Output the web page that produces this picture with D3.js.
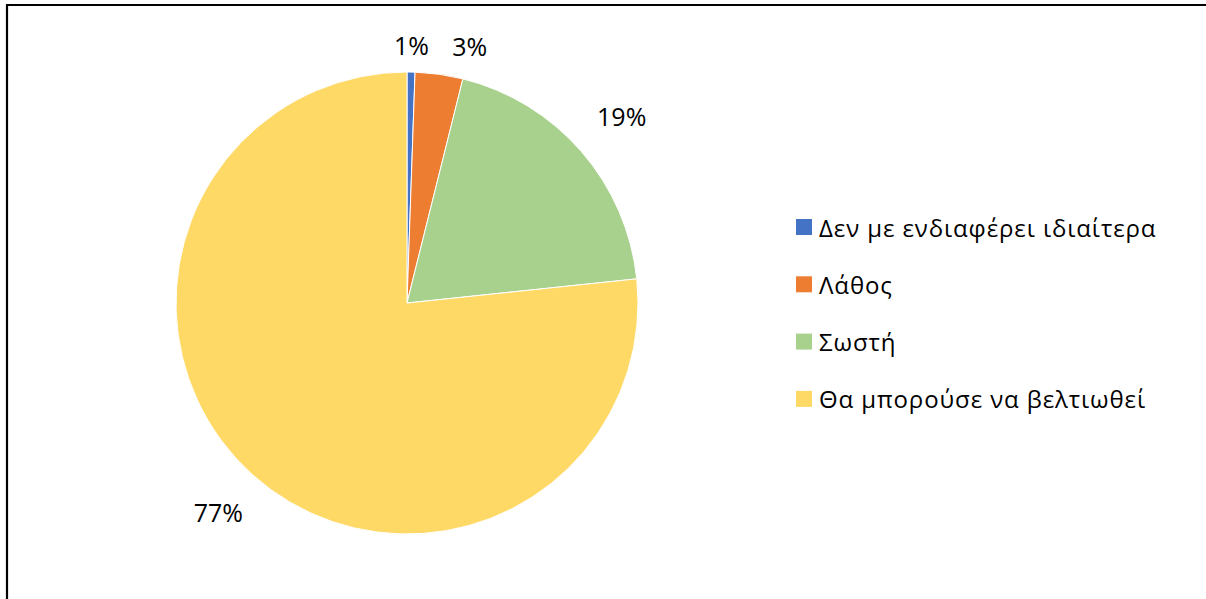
<!DOCTYPE html>
<html>
<head>
<meta charset="utf-8">
<script src="https://cdn.jsdelivr.net/npm/d3@7"></script>
<style>
  html, body { margin: 0; padding: 0; background: #fff; }
  svg { display: block; }
  text { font-family: "Open Sans", "Noto Sans", "DejaVu Sans", sans-serif; fill: #000; }
</style>
</head>
<body>
<svg id="chart" width="1206" height="599"></svg>
<script>
// Survey answers (response counts) and their slice colours
const categories = ["Δεν με ενδιαφέρει ιδιαίτερα", "Λάθος", "Σωστή", "Θα μπορούσε να βελτιωθεί"];
const counts = [1, 6, 35, 138];
const colors = ["#4472C4", "#ED7D31", "#A9D18E", "#FFD966"];

const width = 1206, height = 599;
const svg = d3.select("#chart");

// chart frame (left and top edges visible)
svg.append("path")
  .attr("d", d3.line()([[7, height + 2], [7, 5], [width + 2, 5]]))
  .attr("fill", "none")
  .attr("stroke", "#000")
  .attr("stroke-width", 2.2);

const cx = 407, cy = 303, radius = 231;
const total = d3.sum(counts);
const data = categories.map((c, i) => ({ name: c, value: counts[i], color: colors[i] }));

const pie = d3.pie().value(d => d.value).sort(null);
const arcs = pie(data);
const arc = d3.arc().innerRadius(0).outerRadius(radius);

const g = svg.append("g").attr("transform", `translate(${cx},${cy})`);

g.selectAll("path.slice")
  .data(arcs)
  .join("path")
  .attr("class", "slice")
  .attr("d", arc)
  .attr("fill", d => d.data.color)
  .attr("stroke", "#fff")
  .attr("stroke-width", 1);

// percentage labels placed just outside the pie, nudged clockwise if they collide
const fmt = d => Math.round(d.value / total * 100) + "%";
const labelSize = 25, gap = 18;
const labels = g.selectAll("text.pct")
  .data(arcs)
  .join("text")
  .attr("class", "pct")
  .attr("text-anchor", "middle")
  .attr("dominant-baseline", "central")
  .style("font-size", labelSize + "px")
  .text(fmt);

const placed = [];
labels.each(function(d) {
  const w = this.getComputedTextLength(), h = labelSize * 0.7;
  let a = (d.startAngle + d.endAngle) / 2;
  let x, y;
  const posAt = ang => {
    const s = Math.sin(ang), c = -Math.cos(ang);
    const ext = Math.abs(s) * w * 0.8 + Math.abs(c) * h / 2;
    const rr = radius + gap + ext;
    return [s * rr, c * rr];
  };
  for (let k = 0; k < 200; k++) {
    [x, y] = posAt(a);
    const hit = placed.some(p => Math.abs(p.x - x) < (p.w + w) / 2 + 22 && Math.abs(p.y - y) < (p.h + h) / 2 + 8);
    if (!hit) break;
    a += 0.005;
  }
  placed.push({ x, y, w, h });
  d3.select(this).attr("x", x).attr("y", y);
});

// legend
const legend = svg.append("g").attr("transform", "translate(796,227)");
const row = legend.selectAll("g")
  .data(data)
  .join("g")
  .attr("transform", (d, i) => `translate(0,${i * 57.3})`);
row.append("rect")
  .attr("x", 0).attr("y", -8)
  .attr("width", 16).attr("height", 16)
  .attr("fill", d => d.color);
row.append("text")
  .attr("x", 23)
  .attr("y", 0)
  .attr("dominant-baseline", "central")
  .style("font-size", "24px")
  .style("letter-spacing", "0.9px")
  .text(d => d.name);
</script>
</body>
</html>
